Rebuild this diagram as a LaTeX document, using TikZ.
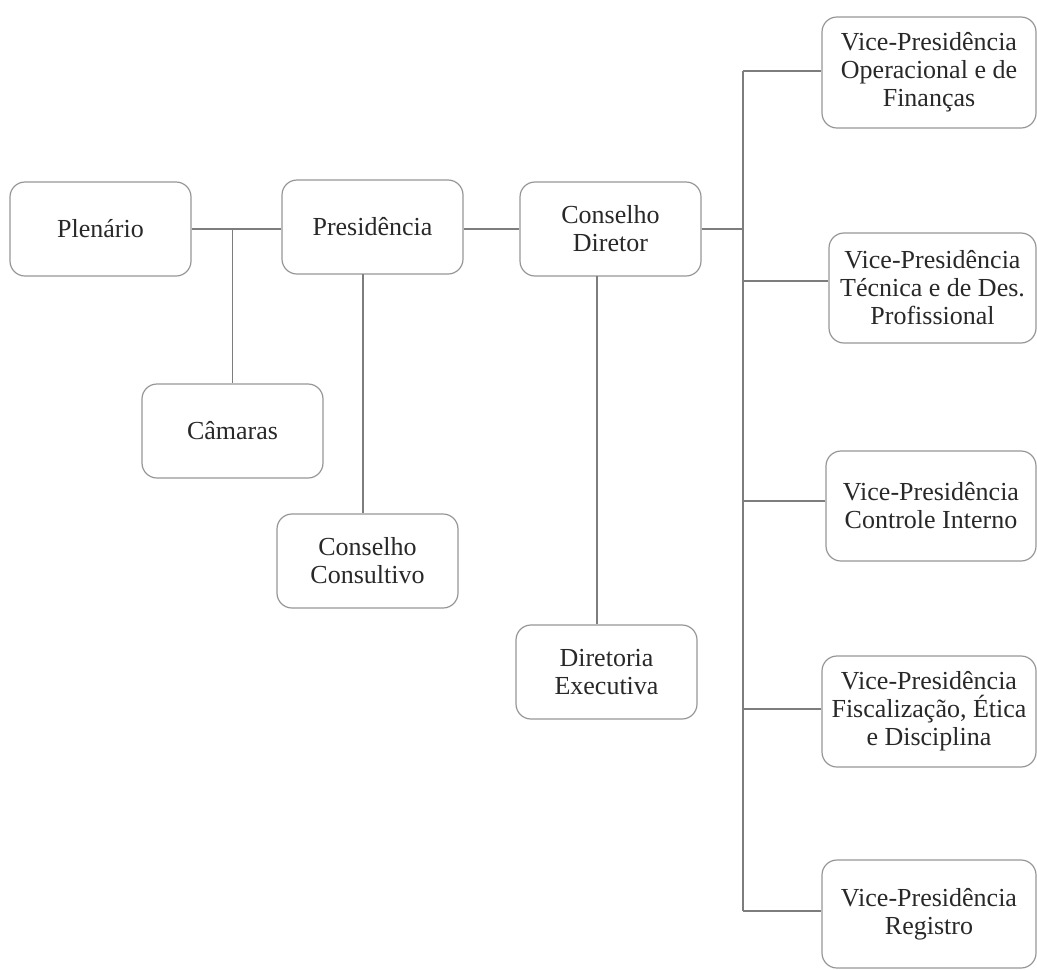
\documentclass[tikz,border=0pt]{standalone}
\usepackage{fontspec}
\setmainfont{Liberation Serif}
\usetikzlibrary{calc}
\definecolor{boxgray}{RGB}{150,150,150}
\definecolor{linegray}{RGB}{125,125,125}
\definecolor{txt}{RGB}{40,40,40}
\tikzset{
  orgbox/.style={draw=boxgray, line width=1.2pt, rounded corners=15pt,
    align=center, text=txt, inner sep=1pt,
    font=\fontsize{26}{28}\selectfont},
  small/.style={orgbox, minimum width=181pt, minimum height=94pt},
  vpbox/.style={orgbox, minimum height=110pt},
  conn/.style={draw=linegray, line width=1.5pt}
}
\begin{document}
\begin{tikzpicture}[x=1pt,y=-1pt]
\useasboundingbox (0,0) rectangle (1037,970);
% left / middle boxes
\node[small] (plen) at (100.5,229) {Plenário};
\node[small] (pres) at (372.5,227) {Presidência};
\node[small] (cd) at (610.5,229) {Conselho\\Diretor};
\node[small] (cam) at (232.5,431) {Câmaras};
\node[small] (cc) at (367.5,561) {Conselho\\Consultivo};
\node[small] (de) at (606.5,672) {Diretoria\\Executiva};
% vice-presidencies
\node[vpbox, minimum width=214pt, minimum height=111pt] (vp1) at (929,72.5) {Vice-Presidência\\Operacional e de\\Finanças};
\node[vpbox, minimum width=207pt] (vp2) at (932.5,288) {Vice-Presidência\\Técnica e de Des.\\Profissional};
\node[vpbox, minimum width=210pt] (vp3) at (931,506) {Vice-Presidência\\Controle Interno};
\node[vpbox, minimum width=214pt, minimum height=111pt] (vp4) at (929,711.5) {Vice-Presidência\\Fiscalização, Ética\\e Disciplina};
\node[vpbox, minimum width=214pt, minimum height=108pt] (vp5) at (929,914) {Vice-Presidência\\Registro};
% trunk coordinates
\coordinate (t0) at (743,229);
\coordinate (t1) at (743,71);
\coordinate (t2) at (743,281);
\coordinate (t3) at (743,501);
\coordinate (t4) at (743,709);
\coordinate (t5) at (743,911);
\coordinate (j1) at (232.5,229);
\coordinate (p1) at (363,274);
\coordinate (c1) at (597,276);
% connectors
\draw[conn] (plen.east) -- (plen.east -| pres.west);
\draw[conn] (j1) -- (cam.north);
\draw[conn] (p1) -- (p1 |- cc.north);
\draw[conn] (pres.east |- cd.west) -- (cd.west);
\draw[conn] (c1) -- (c1 |- de.north);
\draw[conn] (cd.east) -- (t0);
\draw[conn] (t1) -- (t5);
\draw[conn] (t1) -- (t1 -| vp1.west);
\draw[conn] (t2) -- (t2 -| vp2.west);
\draw[conn] (t3) -- (t3 -| vp3.west);
\draw[conn] (t4) -- (t4 -| vp4.west);
\draw[conn] (t5) -- (t5 -| vp5.west);
\end{tikzpicture}
\end{document}
